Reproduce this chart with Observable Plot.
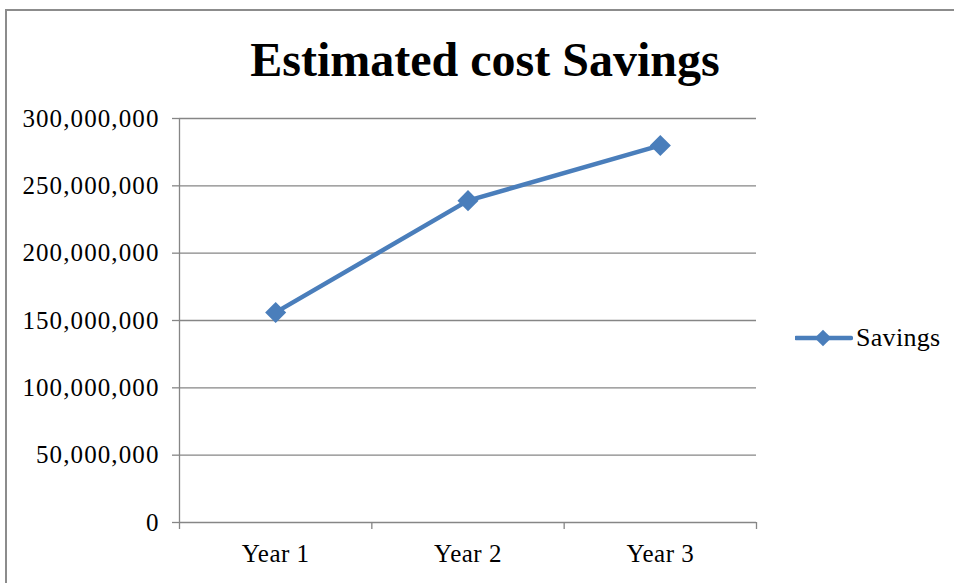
<!DOCTYPE html>
<html>
<head>
<meta charset="utf-8">
<script src="https://cdn.jsdelivr.net/npm/d3@7"></script>
<script src="https://cdn.jsdelivr.net/npm/@observablehq/plot@0.6"></script>
<style>
  html, body { margin: 0; padding: 0; background: #fff; }
  #wrap { position: relative; width: 954px; height: 583px; overflow: hidden; font-family: "Liberation Serif", "Times New Roman", serif; }
  #frame { position: absolute; left: 5px; top: 9px; width: 960px; height: 600px; border-left: 2px solid #8c8c8c; border-top: 2px solid #8c8c8c; box-sizing: border-box; }
  #title { position: absolute; left: 0; top: 36px; width: 970px; text-align: center; font-size: 48px; font-weight: bold; line-height: 48px; color: #000; }
  #chart { position: absolute; left: 0; top: 0; }
  #legend { position: absolute; left: 795px; top: 324px; height: 28px; display: flex; align-items: center; font-size: 26px; color: #000; }
  #legend svg { display: block; margin-right: 3px; }
</style>
</head>
<body>
<div id="wrap">
  <div id="frame"></div>
  <div id="chart"></div>
  <div id="title">Estimated cost Savings</div>
  <div id="legend"></div>
</div>
<script>
const years = ["Year 1", "Year 2", "Year 3"];
const savings = [156000000, 239000000, 280000000];
const yTicks = [0, 50000000, 100000000, 150000000, 200000000, 250000000, 300000000];
const categoryBoundaries = [0, 1, 2, 3];
const seriesName = "Savings";
const seriesColor = "#4a7ebb";

const data = years.map((year, i) => ({ year, pos: i + 0.5, value: savings[i] }));
const labelPositions = data.map(d => d.pos);

const chart = Plot.plot({
  width: 954,
  height: 583,
  marginLeft: 179,
  marginRight: 198,
  marginTop: 118,
  marginBottom: 61,
  x: { type: "linear", domain: [0, 3] },
  y: { domain: [0, 300000000] },
  style: { fontFamily: "Liberation Serif, Times New Roman, serif", fontSize: "25px", color: "#000", background: "transparent", overflow: "visible" },
  marks: [
    Plot.ruleY(yTicks, { stroke: "#868686", strokeWidth: 1.3 }),
    Plot.ruleX([0], { y1: 0, y2: 300000000, stroke: "#868686", strokeWidth: 1.3 }),
    Plot.axisY({ ticks: yTicks, tickSize: 7, tickPadding: 13, tickFormat: d3.format(","), stroke: "#868686", strokeWidth: 1.3, label: null, ariaLabel: "y-axis" }),
    Plot.axisX(categoryBoundaries, { tickSize: 7, tickFormat: () => "", stroke: "#868686", strokeWidth: 1.3, label: null }),
    Plot.axisX(labelPositions, { tickSize: 0, tickPadding: 22, tickFormat: d => years[Math.floor(d)], label: null }),
    Plot.line(data, { x: "pos", y: "value", stroke: seriesColor, strokeWidth: 4.5 }),
    Plot.dot(data, { x: "pos", y: "value", symbol: "diamond2", r: 9.5, fill: seriesColor, stroke: "none" })
  ]
});
d3.select(chart).selectAll("g[aria-label='y-axis tick label'] text").style("letter-spacing", "1.1px");
d3.select(chart).selectAll("g[aria-label='x-axis tick label'] text").style("letter-spacing", "0.5px");
document.getElementById("chart").appendChild(chart);

// legend
const legend = document.getElementById("legend");
const sw = d3.create("svg").attr("width", 58).attr("height", 28);
sw.append("line").attr("x1", 1).attr("x2", 56).attr("y1", 14).attr("y2", 14)
  .attr("stroke", seriesColor).attr("stroke-width", 4.5).attr("stroke-linecap", "round");
sw.append("path").attr("transform", "translate(28,14)")
  .attr("d", d3.symbol(d3.symbolDiamond2, Math.PI * 7.5 * 7.5)()).attr("fill", seriesColor);
legend.appendChild(sw.node());
const lt = document.createElement("span");
lt.textContent = seriesName;
lt.style.letterSpacing = "0.3px";
legend.appendChild(lt);
</script>
</body>
</html>
